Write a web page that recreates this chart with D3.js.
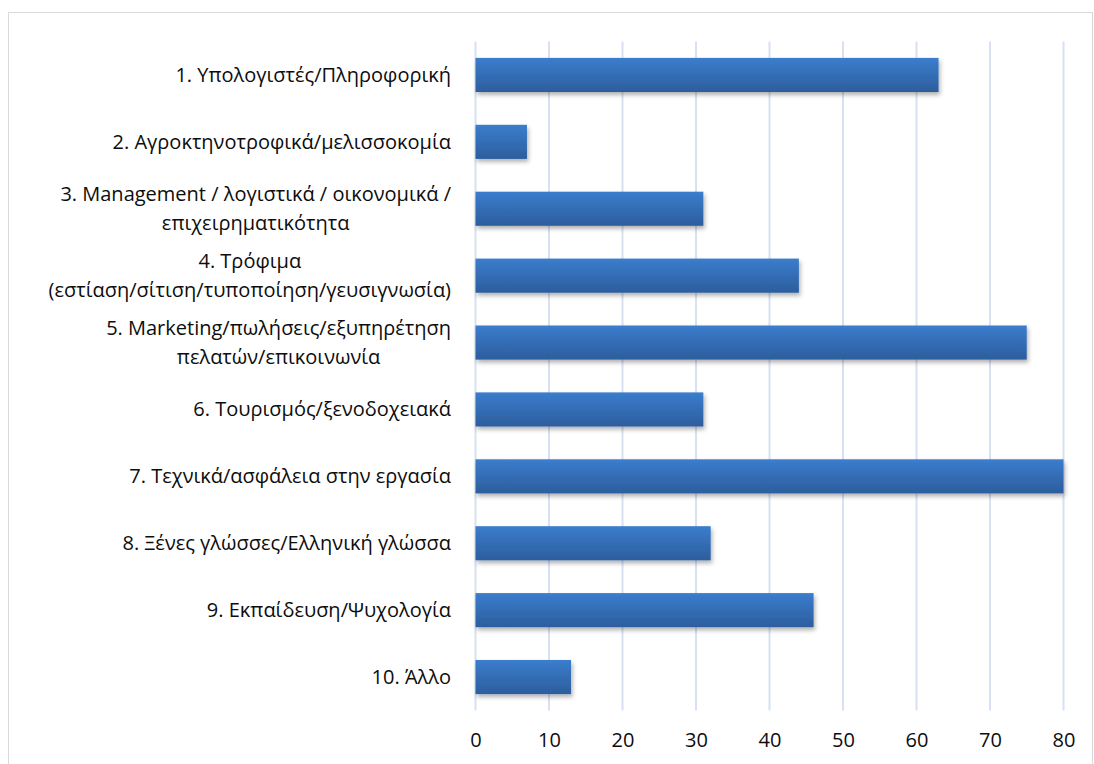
<!DOCTYPE html>
<html>
<head>
<meta charset="utf-8">
<script src="https://cdn.jsdelivr.net/npm/d3@7"></script>
<style>
  body { margin: 0; background: #fff; }
  svg { display: block; }
  text { font-family: "Open Sans", "Noto Sans", sans-serif; fill: #0d0d0d; }
</style>
</head>
<body>
<svg></svg>
<script>
var WIDTH = 1094;
var HEIGHT = 764;

// category labels, one entry per line of the label
var categories = [
    ['1. Υπολογιστές/Πληροφορική'],
    ['2. Αγροκτηνοτροφικά/μελισσοκομία'],
    ['3. Management / λογιστικά / οικονομικά /', 'επιχειρηματικότητα'],
    ['4. Τρόφιμα', '(εστίαση/σίτιση/τυποποίηση/γευσιγνωσία)'],
    ['5. Marketing/πωλήσεις/εξυπηρέτηση', 'πελατών/επικοινωνία'],
    ['6. Τουρισμός/ξενοδοχειακά'],
    ['7. Τεχνικά/ασφάλεια στην εργασία'],
    ['8. Ξένες γλώσσες/Ελληνική γλώσσα'],
    ['9. Εκπαίδευση/Ψυχολογία'],
    ['10. Άλλο']
];
var values = [63, 7, 31, 44, 75, 31, 80, 32, 46, 13];
var xTicks = [0, 10, 20, 30, 40, 50, 60, 70, 80];

var plot = { left: 475.5, right: 1063.5, top: 41.5, bottom: 710.5 };

var svg = d3.select('svg')
    .attr('width', WIDTH)
    .attr('height', HEIGHT);

// chart border
svg.append('rect')
    .attr('x', 8.5)
    .attr('y', 12.5)
    .attr('width', 1084)
    .attr('height', 800)
    .attr('fill', 'none')
    .attr('stroke', '#d9d9d9')
    .attr('stroke-width', 1);

var defs = svg.append('defs');
var grad = defs.append('linearGradient')
    .attr('id', 'barGrad')
    .attr('x1', 0).attr('y1', 0).attr('x2', 0).attr('y2', 1);
grad.append('stop').attr('offset', '0%').attr('stop-color', '#3b7dcd');
grad.append('stop').attr('offset', '100%').attr('stop-color', '#2c5d9d');

var shadow = defs.append('filter')
    .attr('id', 'shadow')
    .attr('x', '-10%').attr('y', '-20%')
    .attr('width', '130%').attr('height', '160%');
shadow.append('feDropShadow')
    .attr('dx', 1.5)
    .attr('dy', 3)
    .attr('stdDeviation', 2.2)
    .attr('flood-color', '#000')
    .attr('flood-opacity', 0.3);

var xScale = d3.scaleLinear()
    .domain([0, 80])
    .range([plot.left, plot.right]);

var yScale = d3.scaleBand()
    .domain(d3.range(categories.length))
    .range([plot.top, plot.bottom])
    .paddingInner(0.49)
    .paddingOuter(0.245);

// vertical gridlines
svg.append('g')
    .selectAll('line')
    .data(xTicks)
    .enter()
    .append('line')
    .attr('x1', function(d){ return xScale(d); })
    .attr('x2', function(d){ return xScale(d); })
    .attr('y1', plot.top)
    .attr('y2', plot.bottom)
    .attr('stroke', '#d6e1f1')
    .attr('stroke-width', 2);

// bars
svg.append('g')
    .selectAll('rect')
    .data(values)
    .enter()
    .append('rect')
    .attr('x', xScale(0))
    .attr('y', function(d, i){ return yScale(i); })
    .attr('width', function(d){ return xScale(d) - xScale(0); })
    .attr('height', yScale.bandwidth())
    .attr('fill', 'url(#barGrad)')
    .attr('filter', 'url(#shadow)');

// x axis labels
var bottomAxis = d3.axisBottom(xScale)
    .tickValues(xTicks)
    .tickSize(0)
    .tickPadding(0);
var xAxis = svg.append('g')
    .attr('transform', 'translate(0,' + (plot.bottom + 22) + ')')
    .call(bottomAxis);
xAxis.select('.domain').remove();
xAxis.selectAll('text')
    .attr('dy', '0.71em')
    .style('font-size', '20px')
    .style('font-family', '"Open Sans", "Noto Sans", sans-serif')
    .attr('fill', '#0d0d0d');

// category labels: right-aligned block, lines centred inside it
var labelRight = 451;
var lineH = 29;
var labels = svg.append('g');
categories.forEach(function(lines, i){
    var g = labels.append('g');
    var cy = yScale(i) + yScale.bandwidth() / 2;
    var texts = lines.map(function(line, j){
        return g.append('text')
            .attr('y', cy + (j - (lines.length - 1) / 2) * lineH)
            .attr('dy', '0.35em')
            .style('font-size', '20px')
            .text(line);
    });
    var maxW = d3.max(texts, function(t){ return t.node().getComputedTextLength(); });
    texts.forEach(function(t){
        t.attr('x', labelRight - maxW / 2).attr('text-anchor', 'middle');
    });
});
</script>
</body>
</html>
